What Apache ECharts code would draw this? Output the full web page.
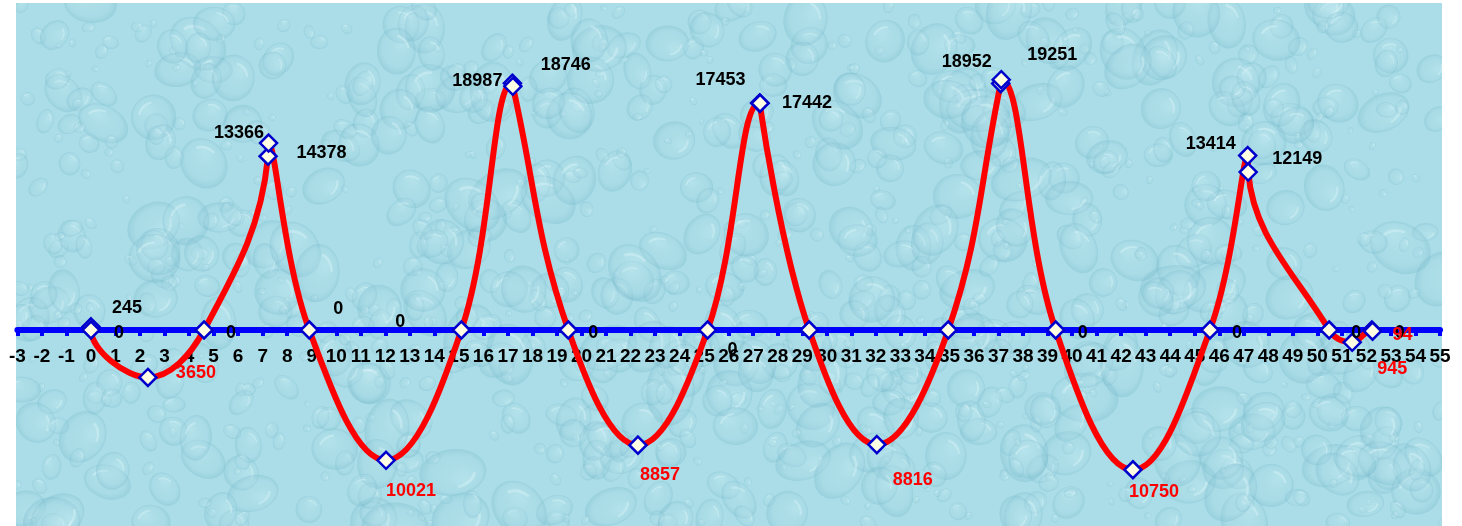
<!DOCTYPE html>
<html>
<head>
<meta charset="utf-8">
<title>Wave chart</title>
<script src="https://cdn.jsdelivr.net/npm/echarts@6/dist/echarts.min.js"></script>
<style>
  html, body { margin: 0; padding: 0; background: #ffffff; }
  #chart { width: 1462px; height: 526px; }
</style>
</head>
<body>
<div id="chart"></div>
<script>
// x position of each point along the axis
const xs = [0, 0, 2.32, 4.61, 7.22, 7.24, 8.9, 12.03, 15.1, 17.18, 17.2, 19.46, 22.3, 25.14,
            27.26, 27.28, 29.28, 32.04, 34.95, 37.09, 37.11, 39.33, 42.48, 45.62, 47.16, 47.18,
            50.48, 51.42, 52.22, 52.25];
// value at each point (negatives are labelled in red without sign)
const values = [245, 0, -3650, 0, 13366, 14378, 0, -10021, 0, 18987, 18746, 0, -8857, 0,
                17453, 17442, 0, -8816, 0, 18952, 19251, 0, -10750, 0, 13414, 12149,
                0, -945, 0, -94];
// axis ticks
const xMin = -3, xMax = 55, xStep = 1;
const yMin = -15000, yMax = 25000;

// where each value label sits relative to its marker (null = no label)
const labelOffsets = [[36, -19], [28, 3], [48, -4], [27, 3], [-29, -23], [53, 10], [29, -21],
  [25, 31], [-61, -8], [-35, -2], [53, -21], [25, 3], [22, 30], [25, 20], [-39, -23], [47, 0],
  null, [36, 35], null, [-34, -22], [51, -25], [27, 3], [21, 22], [27, 3], [-37, -12],
  [49, -13], [27, 3], [40, 27], [28, 3], [30, 4]];

// water-drop backdrop painted once on an offscreen canvas
function makeBackdrop(w, h) {
  const c = document.createElement('canvas');
  c.width = w; c.height = h;
  const g = c.getContext('2d');
  g.fillStyle = '#aadde7';
  g.fillRect(0, 0, w, h);
  let seed = 7;
  const rnd = () => { seed = (seed * 16807) % 2147483647; return seed / 2147483647; };
  for (let i = 0; i < 1100; i++) {
    const x = rnd() * w, y = rnd() * h;
    const r = 3 + Math.pow(rnd(), 1.8) * 22;
    const sx = 0.7 + rnd() * 0.8;
    const rot = rnd() * Math.PI;
    g.save();
    g.translate(x, y);
    g.rotate(rot);
    g.scale(sx, 1);
    const grad = g.createRadialGradient(-r * 0.35, -r * 0.35, r * 0.1, 0, 0, r);
    grad.addColorStop(0, 'rgba(200,236,243,0.3)');
    grad.addColorStop(0.75, 'rgba(160,212,224,0.18)');
    grad.addColorStop(1, 'rgba(110,178,198,0.3)');
    g.fillStyle = grad;
    g.beginPath();
    g.arc(0, 0, r, 0, Math.PI * 2);
    g.fill();
    g.strokeStyle = 'rgba(230,248,251,0.35)';
    g.lineWidth = Math.max(1, r * 0.1);
    g.beginPath();
    g.arc(0, 0, r * 0.65, Math.PI * 1.05, Math.PI * 1.45);
    g.stroke();
    g.restore();
  }
  return c;
}

const chart = echarts.init(document.getElementById('chart'), null, { renderer: 'canvas' });

const points = xs.map((x, i) => ({
  value: [x, values[i]],
  label: labelOffsets[i]
    ? { show: true, color: values[i] < 0 ? '#ff0000' : '#000000' }
    : { show: false }
}));

// plot area: top 5 px, zero line at y = 330, bottom at 525
const plotTop = 5, zeroY = 330;
const plotH = 520;

const labelFont = { fontFamily: 'Liberation Sans, Arial, sans-serif', fontWeight: 'bold' };

chart.setOption({
  animation: false,
  backgroundColor: '#ffffff',
  graphic: [{
    type: 'image',
    silent: true,
    z: -10,
    style: { image: makeBackdrop(1426, 523), x: 16, y: 3, width: 1426, height: 523 }
  }],
  grid: [
    // plotting grid
    { left: 17.4, right: 22, top: plotTop, height: plotH, outerBoundsMode: 'none', containLabel: false },
    // grid whose bottom edge sits on the zero line, carrying the visible axis
    { left: 17.4, right: 22, top: plotTop, height: zeroY - plotTop, outerBoundsMode: 'none', containLabel: false }
  ],
  xAxis: [{
    gridIndex: 0,
    type: 'value',
    min: xMin,
    max: xMax,
    interval: xStep,
    show: false
  }, {
    gridIndex: 1,
    type: 'value',
    position: 'bottom',
    min: xMin,
    max: xMax,
    interval: xStep,
    axisLine: { onZero: false, lineStyle: { color: '#0000ff', width: 6 } },
    axisTick: { show: true, length: 6, lineStyle: { color: '#0000ff', width: 4 } },
    axisLabel: Object.assign({
      margin: 17,
      color: '#000000',
      fontSize: 19,
      showMinLabel: true,
      showMaxLabel: true,
      hideOverlap: false
    }, labelFont),
    splitLine: { show: false }
  }],
  yAxis: [{
    gridIndex: 0,
    type: 'value',
    min: yMin,
    max: yMax,
    show: false
  }, {
    gridIndex: 1,
    type: 'value',
    min: 0,
    max: yMax,
    show: false
  }],
  series: [{
    type: 'line',
    xAxisIndex: 0,
    yAxisIndex: 0,
    data: points,
    smooth: 0.4,
    symbol: 'diamond',
    symbolSize: 17,
    lineStyle: { color: '#ff0000', width: 6 },
    itemStyle: { color: '#fffde2', borderColor: '#0000cc', borderWidth: 2.5 },
    label: Object.assign({
      show: true,
      position: 'inside',
      formatter: p => String(Math.abs(p.value[1])),
      fontSize: 18
    }, labelFont),
    labelLayout: p => {
      const off = labelOffsets[p.dataIndex] || [0, 0];
      return { dx: off[0], dy: off[1], hideOverlap: false };
    },
    z: 3
  }]
});
</script>
</body>
</html>
